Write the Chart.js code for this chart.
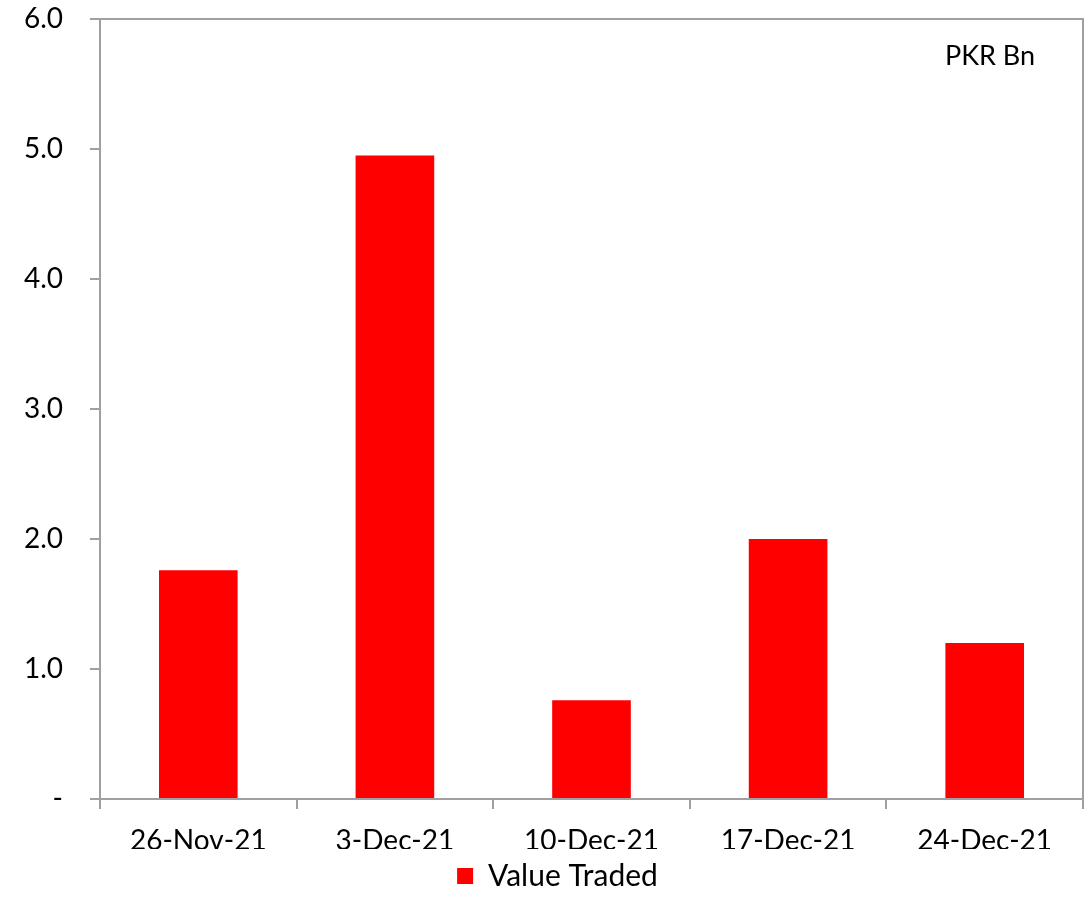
<!DOCTYPE html>
<html>
<head>
<meta charset="utf-8">
<script src="https://cdn.jsdelivr.net/npm/chart.js@4"></script>
<style>
  html, body { margin: 0; padding: 0; background: #fff; }
  #wrap { width: 1087px; height: 917px; }
</style>
</head>
<body>
<div id="wrap"><canvas id="chart"></canvas></div>
<script>
// Weekly value traded, PKR billions
const weeks = ['26-Nov-21', '3-Dec-21', '10-Dec-21', '17-Dec-21', '24-Dec-21'];
const valueTraded = [1.76, 4.95, 0.76, 2.00, 1.20];
const yTicks = [0, 1, 2, 3, 4, 5, 6];

const axisGrey = '#a0a0a0';
const fontFamily = 'Lato, "Open Sans", sans-serif';

// Frame around the plot area plus the unit note in the top right corner
const framePlugin = {
    id: 'frame',
    afterLayout(chart) {
        // nudge the legend a little right of the canvas centre
        if (chart.legend) {
            chart.legend.left += 16;
            chart.legend.right += 16;
        }
    },
    afterDraw(chart) {
        const { ctx, chartArea: a } = chart;
        ctx.save();
        ctx.strokeStyle = axisGrey;
        ctx.lineWidth = 2;
        ctx.beginPath();
        ctx.moveTo(a.left, a.top);
        ctx.lineTo(a.right, a.top);
        ctx.lineTo(a.right, a.bottom);
        ctx.stroke();
        ctx.fillStyle = '#000';
        ctx.font = '27px ' + fontFamily;
        ctx.textAlign = 'center';
        ctx.textBaseline = 'middle';
        ctx.fillText('PKR Bn', a.right - 93, a.top + 37);
        ctx.restore();
    }
};

new Chart(document.getElementById('chart'), {
    type: 'bar',
    data: {
        labels: weeks,
        datasets: [{
            label: 'Value Traded',
            data: valueTraded,
            backgroundColor: '#ff0000',
            borderWidth: 0,
            barPercentage: 0.4,
            categoryPercentage: 1.0
        }]
    },
    options: {
        responsive: true,
        maintainAspectRatio: false,
        animation: false,
        layout: { padding: { top: 19, right: 4, left: 0, bottom: 16 } },
        plugins: {
            legend: {
                position: 'bottom',
                labels: {
                    color: '#000',
                    font: { size: 30, family: fontFamily },
                    boxWidth: 16,
                    boxHeight: 16,
                    padding: 12
                }
            },
            tooltip: { enabled: false }
        },
        scales: {
            x: {
                grid: {
                    drawOnChartArea: false,
                    tickLength: 10,
                    color: axisGrey,
                    lineWidth: 2
                },
                border: { color: axisGrey, width: 2 },
                ticks: {
                    color: '#000',
                    font: { size: 28, family: fontFamily },
                    padding: 15,
                    maxRotation: 0
                },
                afterFit(scale) { scale.height = 50; }
            },
            y: {
                min: 0,
                max: 6,
                afterBuildTicks(scale) {
                    scale.ticks = yTicks.map(v => ({ value: v }));
                },
                grid: {
                    drawOnChartArea: false,
                    tickLength: 10,
                    color: axisGrey,
                    lineWidth: 2
                },
                border: { color: axisGrey, width: 2 },
                ticks: {
                    color: '#000',
                    font: { size: 28, family: fontFamily },
                    padding: 27,
                    callback: v => v === 0 ? '-' : v.toFixed(1)
                },
                afterFit(scale) {
                    // labels may overhang the plot top; don't reserve room for them
                    scale.width = 100;
                    scale.paddingTop = 0;
                    scale.paddingBottom = 0;
                }
            }
        }
    },
    plugins: [framePlugin]
});
</script>
</body>
</html>
